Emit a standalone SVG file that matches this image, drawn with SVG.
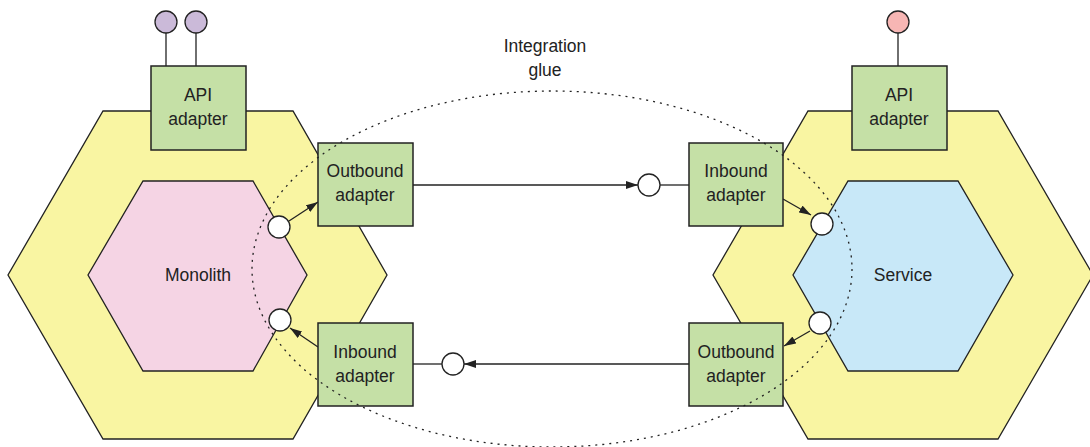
<svg xmlns="http://www.w3.org/2000/svg" width="1090" height="447" viewBox="0 0 1090 447">
<defs>
<style>
.outer{fill:#f9f5a2;stroke:#222;stroke-width:1.3}
.mono{fill:#f5d4e4;stroke:#222;stroke-width:1.3}
.svc{fill:#c8e8f8;stroke:#222;stroke-width:1.3}
.box{fill:#c5e0a6;stroke:#222;stroke-width:1.5}
.port{fill:#fff;stroke:#222;stroke-width:1.3}
.line{fill:none;stroke:#222;stroke-width:1.3}
.glue{fill:none;stroke:#222;stroke-width:1.3;stroke-dasharray:2 5}
text{font-family:"Liberation Sans",Arial,sans-serif;font-size:17.5px;fill:#222;text-anchor:middle}
</style>
<marker id="arr" markerWidth="12" markerHeight="8" refX="12" refY="4" orient="auto" markerUnits="userSpaceOnUse">
<path d="M0,0 L12,4 L0,8 Z" fill="#222"/>
</marker>
</defs>
<g id="monolith-hex">
<polygon class="outer" points="103,111 293,111 387,275 293,439 103,439 8,275"/>
<polygon class="mono" points="143,181 253,181 307,275 253,371 143,371 88,275"/>
<text x="198" y="281">Monolith</text>
</g>
<g id="service-hex">
<polygon class="outer" points="808,111 998,111 1093,275 998,439 808,439 713,275"/>
<polygon class="svc" points="848,181 958,181 1013,275 958,371 848,371 793,275"/>
<text x="903" y="281">Service</text>
</g>
<g id="connectors">
<line class="line" x1="166" y1="33" x2="166" y2="66"/>
<line class="line" x1="196" y1="33" x2="196" y2="66"/>
<line class="line" x1="898" y1="33" x2="898" y2="66"/>
<line class="line" x1="412" y1="185" x2="638" y2="185" marker-end="url(#arr)"/>
<line class="line" x1="660" y1="185" x2="689" y2="185"/>
<line class="line" x1="689" y1="364" x2="464" y2="364" marker-end="url(#arr)"/>
<line class="line" x1="442" y1="364" x2="413" y2="364"/>
<line class="line" x1="289" y1="221" x2="318" y2="202" marker-end="url(#arr)"/>
<line class="line" x1="318" y1="347" x2="290" y2="328" marker-end="url(#arr)"/>
<line class="line" x1="783" y1="199" x2="811" y2="215" marker-end="url(#arr)"/>
<line class="line" x1="810" y1="331" x2="784" y2="346" marker-end="url(#arr)"/>
</g>
<g id="api-adapter-left">
<rect class="box" x="151" y="66" width="95" height="84"/>
<text x="198" y="101">API</text>
<text x="198" y="125">adapter</text>
</g>
<g id="api-adapter-right">
<rect class="box" x="852" y="66" width="95" height="84"/>
<text x="899" y="101">API</text>
<text x="899" y="125">adapter</text>
</g>
<g id="outbound-adapter-left">
<rect class="box" x="318" y="143" width="95" height="83"/>
<text x="365" y="177">Outbound</text>
<text x="365" y="201">adapter</text>
</g>
<g id="inbound-adapter-left">
<rect class="box" x="318" y="323" width="95" height="83"/>
<text x="365" y="358">Inbound</text>
<text x="365" y="382">adapter</text>
</g>
<g id="inbound-adapter-right">
<rect class="box" x="689" y="143" width="94" height="83"/>
<text x="736" y="177">Inbound</text>
<text x="736" y="201">adapter</text>
</g>
<g id="outbound-adapter-right">
<rect class="box" x="689" y="323" width="94" height="83"/>
<text x="736" y="358">Outbound</text>
<text x="736" y="382">adapter</text>
</g>
<g id="integration-glue">
<ellipse class="glue" cx="552" cy="269" rx="300" ry="178"/>
<text x="545" y="52">Integration</text>
<text x="545" y="76">glue</text>
</g>
<g id="ports">
<circle class="port" cx="166" cy="22" r="11" style="fill:#cbbad9"/>
<circle class="port" cx="196" cy="22" r="11" style="fill:#cbbad9"/>
<circle class="port" cx="898" cy="22" r="11" style="fill:#f7b6b4"/>
<circle class="port" cx="279" cy="227" r="11"/>
<circle class="port" cx="280" cy="320" r="11"/>
<circle class="port" cx="822" cy="224" r="11"/>
<circle class="port" cx="820" cy="323" r="11"/>
<circle class="port" cx="649" cy="185" r="11"/>
<circle class="port" cx="453" cy="364" r="11"/>
</g>
</svg>
